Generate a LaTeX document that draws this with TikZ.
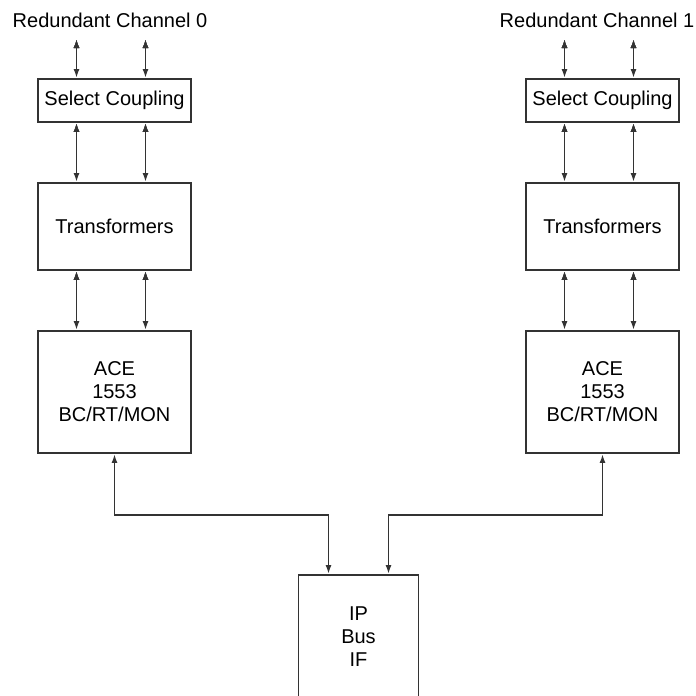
\documentclass[tikz,border=0pt]{standalone}
\usepackage{fontspec}
\setmainfont{Liberation Sans}
\usetikzlibrary{arrows.meta}

\begin{document}
\begin{tikzpicture}[x=1pt,y=-1pt,font=\fontsize{20}{23}\selectfont,
	box/.style={draw=black!80, line width=1.8pt, minimum width=153pt, align=center, inner sep=0pt},
	link/.style={{Latex[length=9pt,width=6pt]}-{Latex[length=9pt,width=6pt]}, draw=black!80, line width=1.8pt}]
	\useasboundingbox (0,0) rectangle (696,696);
	\clip (0,0) rectangle (696,696);
	
	\node (1) at (110,20) {Redundant Channel 0};
	\node[box, minimum height=43pt] (2) at (114.5,100.5) {Select Coupling};
	\node[box, minimum height=87pt] (3) at (114.5,226.5) {Transformers};
	\node[box, minimum height=122pt] (4) at (114.5,392) {ACE\\1553\\BC/RT/MON};
	\node (5) at (597,20) {Redundant Channel 1};
	\node[box, minimum height=43pt] (6) at (602.5,100.5) {Select Coupling};
	\node[box, minimum height=87pt] (7) at (602.5,226.5) {Transformers};
	\node[box, minimum height=122pt] (8) at (602.5,392) {ACE\\1553\\BC/RT/MON};
	\node[box, minimum width=120pt, minimum height=124pt] (9) at (358.5,637) {IP\\Bus\\IF};
	
	\coordinate (1a) at (76.5,39);
	\coordinate (1b) at (145.5,39);
	\coordinate (5a) at (564.5,39);
	\coordinate (5b) at (633.5,39);
	
	\path [link] (1a) edge (2.north -| 1a);
	\path [link] (1b) edge (2.north -| 1b);
	\path [link] (2.south -| 1a) edge (3.north -| 1a);
	\path [link] (2.south -| 1b) edge (3.north -| 1b);
	\path [link] (3.south -| 1a) edge (4.north -| 1a);
	\path [link] (3.south -| 1b) edge (4.north -| 1b);
	
	\path [link] (5a) edge (6.north -| 5a);
	\path [link] (5b) edge (6.north -| 5b);
	\path [link] (6.south -| 5a) edge (7.north -| 5a);
	\path [link] (6.south -| 5b) edge (7.north -| 5b);
	\path [link] (7.south -| 5a) edge (8.north -| 5a);
	\path [link] (7.south -| 5b) edge (8.north -| 5b);
	
	\draw [link] (4.south) -- ++(0,61) -| ([xshift=-30pt]9.north);
	\draw [link] (8.south) -- ++(0,61) -| ([xshift=30pt]9.north);
\end{tikzpicture}
\end{document}
